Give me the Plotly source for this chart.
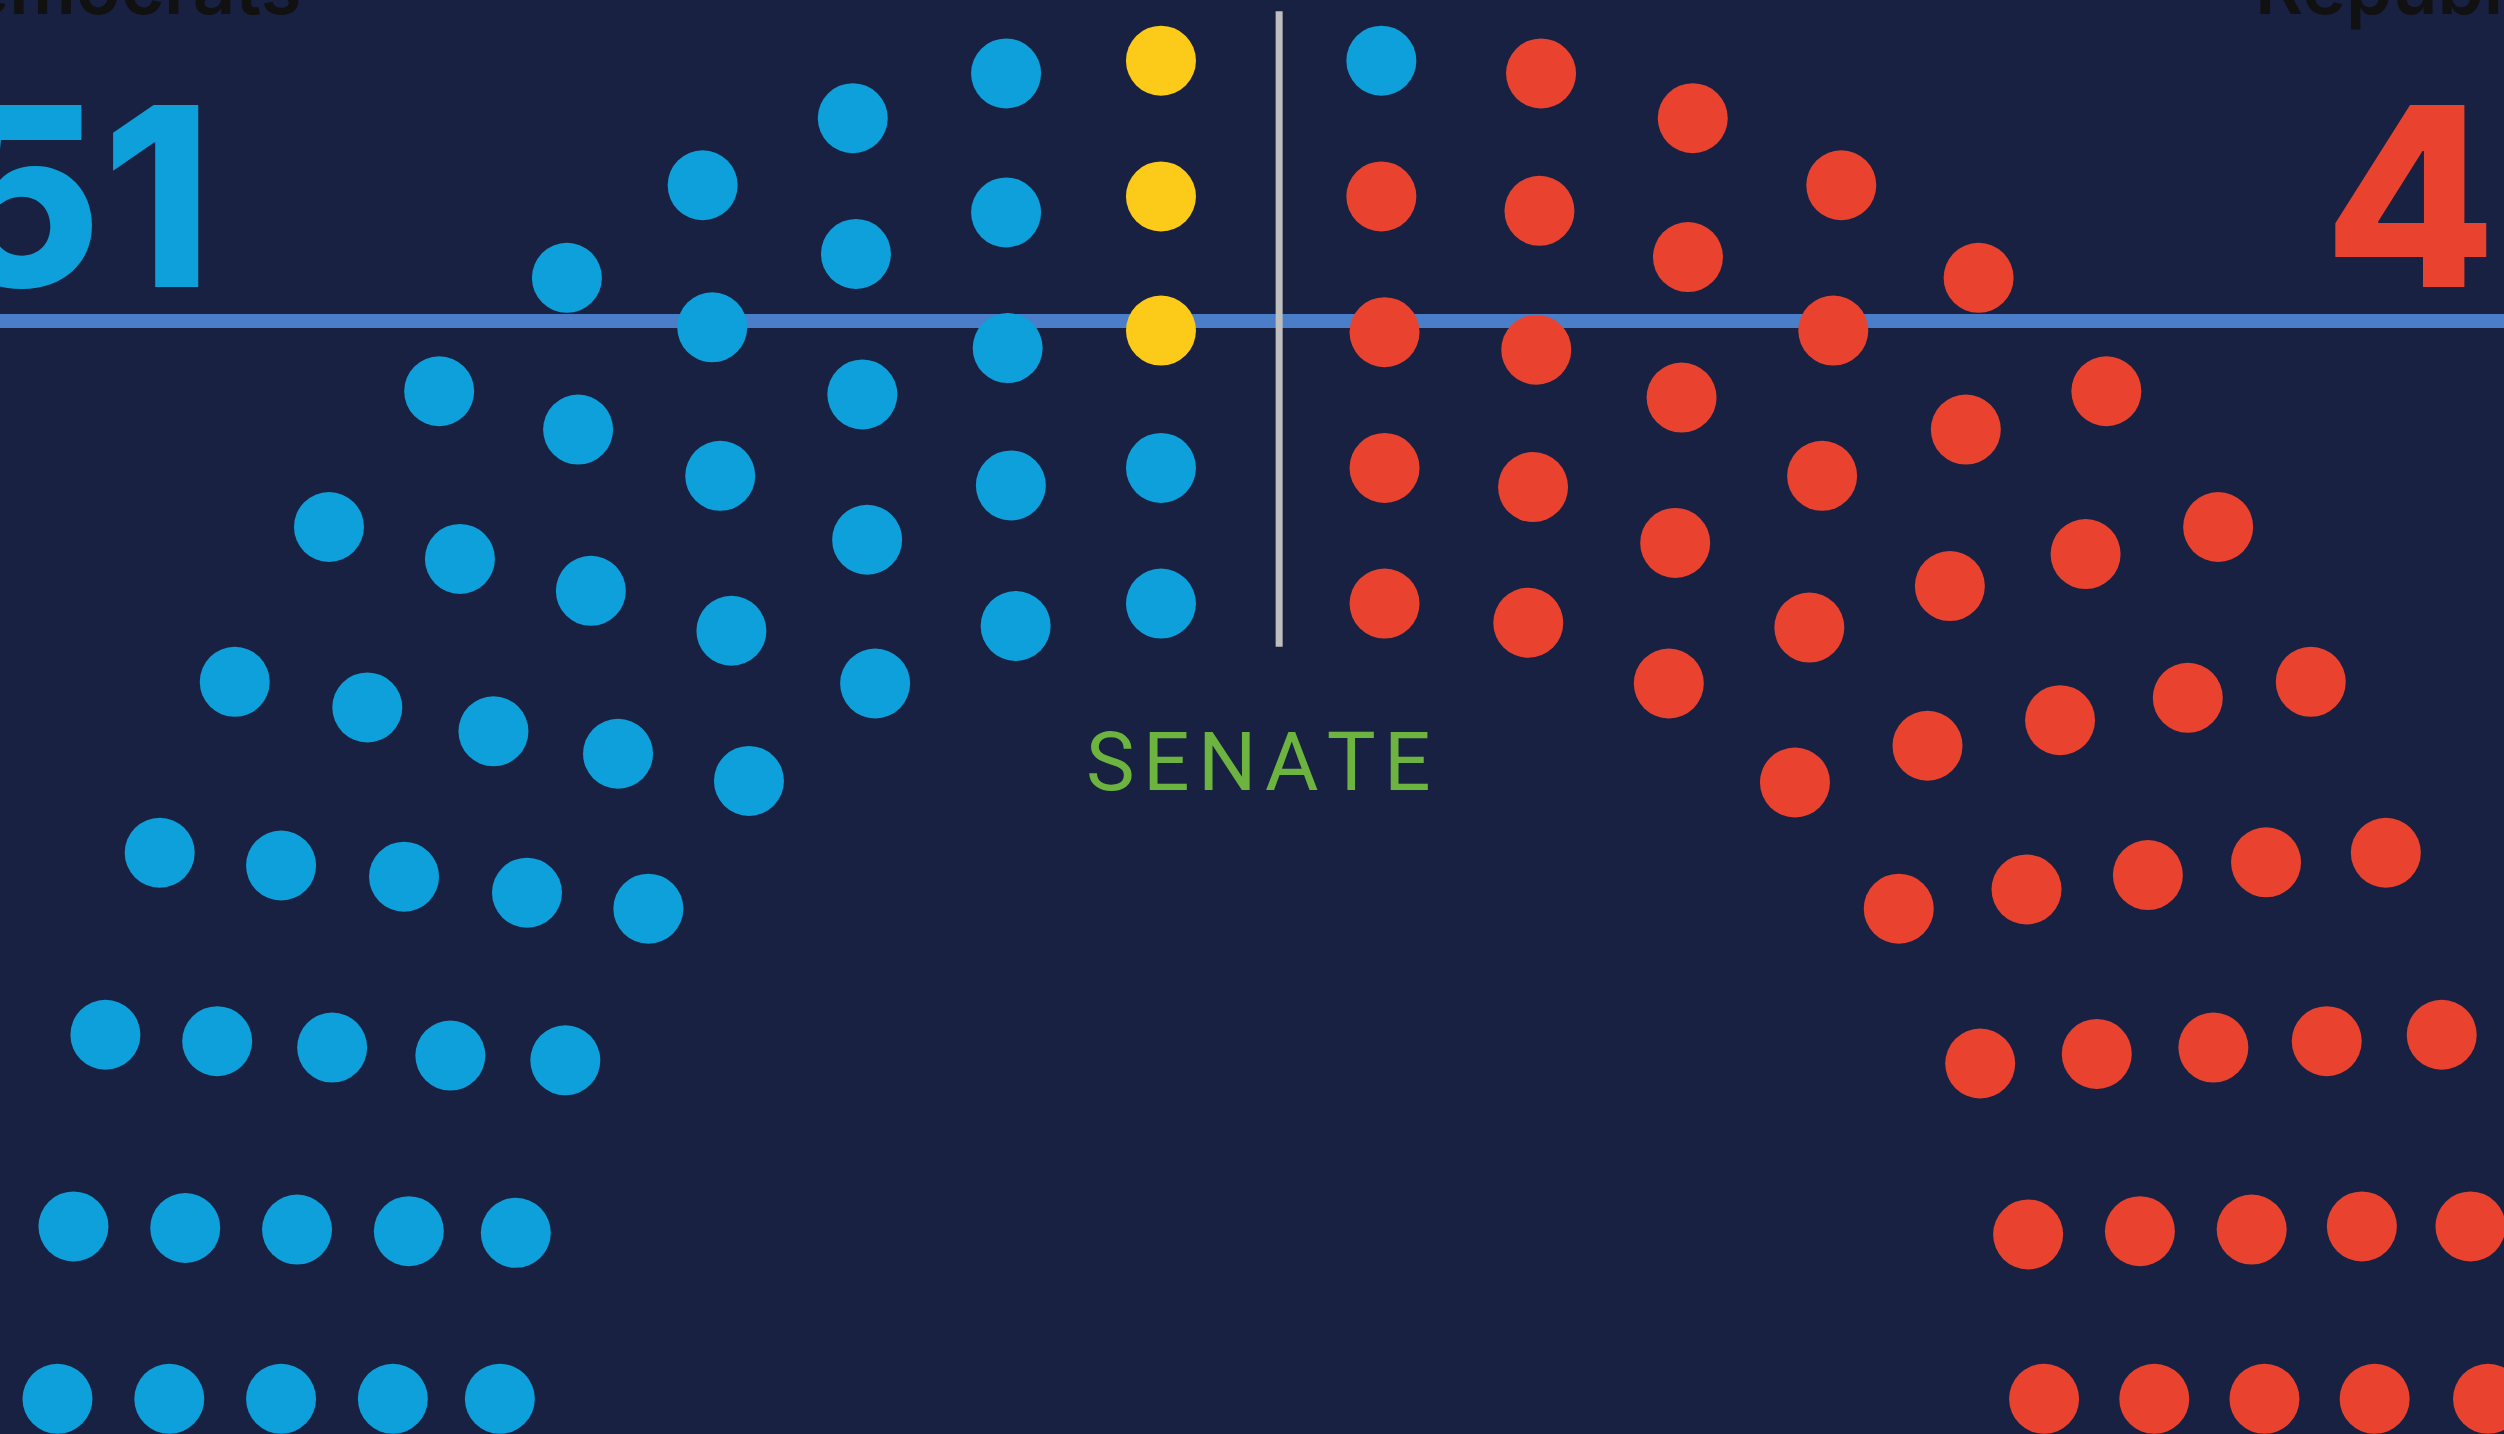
import plotly.graph_objects as go

# ---- data (seat positions, in picture units 0..1568 x 0..898) ----
dem_x = [36, 46, 66, 100, 147, 206, 275, 355, 440, 534, 630,
         106, 116, 136, 176, 230, 288, 362, 446, 536, 630,
         176, 186, 208, 253, 309, 370, 451, 540, 631,
         246, 256, 282, 330, 387, 458, 543, 633, 727,
         313, 323, 354, 406, 469, 548, 636, 727,
         865]
dem_y = [876, 768, 648, 534, 427, 330, 245, 174, 116, 74, 46,
         876, 769, 652, 542, 443, 350, 269, 205, 159, 133,
         876, 770, 656, 549, 458, 370, 298, 247, 218,
         876, 771, 661, 559, 472, 395, 338, 304, 293,
         876, 772, 664, 569, 489, 428, 392, 378,
         38]
ind_x = [727, 727, 727]
ind_y = [38, 123, 207]
rep_x = [965, 1060, 1153, 1239, 1319, 1389, 1447, 1494, 1529, 1547, 1558,
         865, 964, 1057, 1148, 1231, 1306, 1370, 1419, 1457, 1479, 1487,
         867, 962, 1053, 1141, 1221, 1290, 1345, 1386, 1410, 1418,
         867, 960, 1049, 1133, 1207, 1269, 1313, 1340, 1349,
         867, 957, 1045, 1124, 1189, 1240, 1270, 1280]
rep_y = [46, 74, 116, 174, 245, 330, 427, 534, 648, 768, 876,
         123, 132, 161, 207, 269, 347, 437, 540, 652, 768, 876,
         208, 219, 249, 298, 367, 451, 548, 656, 770, 876,
         293, 305, 340, 393, 467, 557, 660, 771, 876,
         378, 390, 428, 490, 569, 666, 773, 876]

party_names = ["Democrats", "Republicans"]
party_totals = [51, 49]
chamber = "SENATE"
majority_line_y = 201
aisle_x = 801

BG = "#192142"
BLUE = "#0DA0DA"
RED = "#E94330"
YELLOW = "#FCCA18"

fig = go.Figure()
for xs, ys, col, name in [(dem_x, dem_y, BLUE, "Democrats"),
                          (ind_x, ind_y, YELLOW, "Independents"),
                          (rep_x, rep_y, RED, "Republicans")]:
    fig.add_trace(go.Scatter(x=xs, y=ys, mode="markers", name=name,
                             marker=dict(size=70, color=col, line=dict(width=0)),
                             hoverinfo="skip"))

fig.add_shape(type="line", xref="paper", x0=0, x1=1, yref="y",
              y0=majority_line_y, y1=majority_line_y,
              line=dict(color="#4A7EC8", width=14), layer="below")
fig.add_shape(type="line", x0=aisle_x, x1=aisle_x, y0=7, y1=405,
              line=dict(color="#BEBEBE", width=7), layer="below")

fig.add_annotation(x=190, y=21.5, text=party_names[0], showarrow=False,
                   xanchor="right", yanchor="bottom",
                   font=dict(family="Inter", size=74, color="#111111", weight=600))
fig.add_annotation(x=1411, y=21.5, text=party_names[1], showarrow=False,
                   xanchor="left", yanchor="bottom",
                   font=dict(family="Inter", size=74, color="#111111", weight=600))
fig.add_annotation(x=134, y=123, text=str(party_totals[0]), showarrow=False,
                   xanchor="right", yanchor="middle",
                   font=dict(family="Inter", size=250, color=BLUE, weight=800))
fig.add_annotation(x=1454, y=123, text=str(party_totals[1]), showarrow=False,
                   xanchor="left", yanchor="middle",
                   font=dict(family="Inter", size=250, color=RED, weight=800))
fig.add_annotation(x=788, y=477, text="\u200a".join(chamber), showarrow=False,
                   xanchor="center", yanchor="middle",
                   font=dict(family="Roboto", size=82, color="#6DB33F"))

fig.update_layout(
    width=2504, height=1434,
    margin=dict(l=0, r=0, t=0, b=0),
    paper_bgcolor=BG, plot_bgcolor=BG,
    showlegend=False,
    xaxis=dict(range=[0, 1568], visible=False, fixedrange=True),
    yaxis=dict(range=[898, 0], visible=False, fixedrange=True),
)
fig.write_html("out.html", config={"displayModeBar": False},
               post_script="document.body.style.margin='0';document.body.style.overflow='hidden';document.body.style.background='" + BG + "';")
